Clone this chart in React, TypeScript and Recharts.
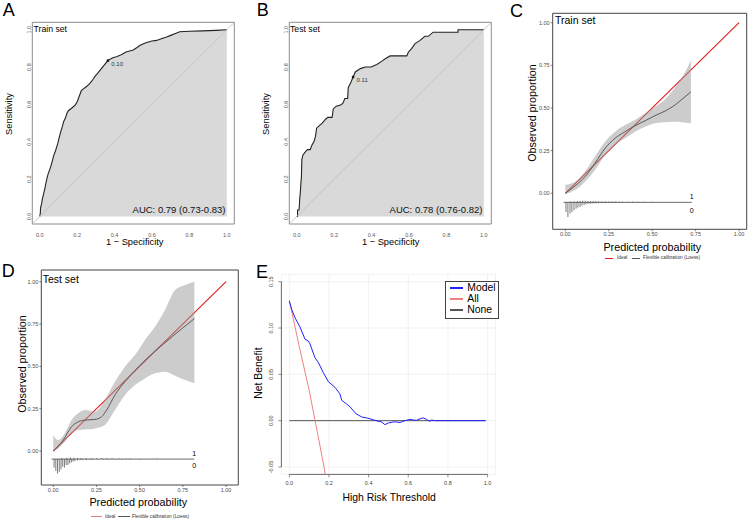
import React from 'react';
import {
  ComposedChart, XAxis, YAxis, Line, Area, ReferenceLine, ReferenceArea, ReferenceDot, CartesianGrid,
} from 'recharts';

const FONT = '"Liberation Sans", Arial, Helvetica, sans-serif';
type P = [number, number];
type B3 = [number, number, number];

// ---------------- data ----------------
const rocTicks = [0, 0.2, 0.4, 0.6, 0.8, 1.0];
const calTicks = [0, 0.25, 0.5, 0.75, 1.0];
const dcaXTicks = [0, 0.2, 0.4, 0.6, 0.8, 1.0];
const dcaYTicks = [-0.05, 0, 0.05, 0.1, 0.15];

// ROC train (1-specificity, sensitivity)
const rocTrain: P[] = [
  [0, 0], [0.003, 0.02], [0.004, 0.045], [0.01, 0.07], [0.014, 0.095], [0.02, 0.12], [0.027, 0.15],
  [0.033, 0.18], [0.039, 0.207], [0.045, 0.23], [0.057, 0.262], [0.065, 0.29], [0.074, 0.325],
  [0.085, 0.355], [0.096, 0.39], [0.103, 0.42], [0.11, 0.447], [0.12, 0.48], [0.128, 0.509],
  [0.138, 0.53], [0.145, 0.553], [0.154, 0.568], [0.17, 0.58], [0.19, 0.598], [0.2, 0.615],
  [0.207, 0.633], [0.215, 0.655], [0.222, 0.674], [0.235, 0.685], [0.248, 0.695], [0.26, 0.705],
  [0.27, 0.716], [0.285, 0.735], [0.296, 0.752], [0.31, 0.768], [0.323, 0.784], [0.34, 0.805],
  [0.352, 0.82], [0.364, 0.835], [0.38, 0.845], [0.394, 0.851], [0.41, 0.856], [0.429, 0.863],
  [0.445, 0.872], [0.461, 0.881], [0.48, 0.886], [0.5, 0.892], [0.52, 0.905], [0.536, 0.917],
  [0.571, 0.932], [0.6, 0.94], [0.624, 0.943], [0.65, 0.952], [0.678, 0.961], [0.7, 0.97],
  [0.722, 0.979], [0.748, 0.989], [0.8, 0.992], [0.87, 0.994], [0.943, 0.997], [1, 1],
];
const rocTrainCut: P = [0.364, 0.835];

// ROC test
const rocTest: P[] = [
  [0, 0], [0.004, 0], [0.004, 0.035], [0.012, 0.035], [0.014, 0.06], [0.016, 0.1], [0.019, 0.13],
  [0.021, 0.163], [0.023, 0.19], [0.025, 0.216], [0.026, 0.26], [0.027, 0.305], [0.033, 0.33],
  [0.048, 0.349], [0.057, 0.358], [0.072, 0.358], [0.08, 0.381], [0.092, 0.402], [0.1, 0.429],
  [0.106, 0.473], [0.119, 0.485], [0.136, 0.5], [0.154, 0.521], [0.166, 0.531], [0.189, 0.531],
  [0.195, 0.576], [0.211, 0.591], [0.234, 0.597], [0.246, 0.606], [0.257, 0.632], [0.272, 0.632],
  [0.275, 0.69], [0.29, 0.72], [0.301, 0.747], [0.313, 0.774], [0.34, 0.792], [0.366, 0.801],
  [0.398, 0.801], [0.428, 0.814], [0.455, 0.832], [0.475, 0.846], [0.499, 0.86], [0.588, 0.86],
  [0.597, 0.881], [0.614, 0.899], [0.632, 0.926], [0.659, 0.943], [0.685, 0.965], [0.703, 0.965],
  [0.729, 0.987], [0.862, 0.987], [0.862, 1], [1, 1],
];
const rocTestCut: P = [0.301, 0.747];

// Calibration (train)
const idealLine: P[] = [[0, 0], [1, 1]];
const loessTrain: P[] = [
  [0, 0], [0.056, 0.043], [0.113, 0.097], [0.171, 0.176], [0.229, 0.264], [0.286, 0.322],
  [0.344, 0.361], [0.401, 0.396], [0.459, 0.425], [0.516, 0.455], [0.574, 0.482],
  [0.631, 0.517], [0.689, 0.566], [0.723, 0.595],
];
const bandTrain: B3[] = [
  [0, -0.005, 0.05], [0.056, 0.019, 0.068], [0.113, 0.068, 0.127], [0.171, 0.137, 0.215],
  [0.229, 0.224, 0.302], [0.286, 0.283, 0.361], [0.344, 0.322, 0.4], [0.401, 0.361, 0.429],
  [0.459, 0.39, 0.469], [0.516, 0.41, 0.507], [0.574, 0.416, 0.55], [0.631, 0.42, 0.62],
  [0.689, 0.415, 0.71], [0.723, 0.41, 0.78],
];
const rugTrain0: P[] = [
  [0.004, 0.057], [0.015, 0.086], [0.027, 0.066], [0.038, 0.057], [0.05, 0.047], [0.062, 0.037],
  [0.073, 0.031], [0.085, 0.027], [0.096, 0.019], [0.108, 0.016], [0.119, 0.012], [0.131, 0.009],
  [0.143, 0.008], [0.154, 0.007], [0.166, 0.006], [0.178, 0.006], [0.19, 0.005], [0.2, 0.005],
  [0.212, 0.004], [0.224, 0.004], [0.236, 0.004], [0.248, 0.003], [0.26, 0.003], [0.272, 0.003],
  [0.284, 0.003], [0.296, 0.003], [0.31, 0.003], [0.33, 0.002], [0.35, 0.002], [0.37, 0.002],
  [0.39, 0.002], [0.42, 0.002], [0.45, 0.002],
];
const rugTrain1: P[] = [
  [0.03, 0.005], [0.05, 0.006], [0.07, 0.008], [0.085, 0.009], [0.1, 0.01], [0.115, 0.009],
  [0.13, 0.008], [0.145, 0.008], [0.16, 0.007], [0.175, 0.007], [0.19, 0.006], [0.21, 0.006],
  [0.23, 0.006], [0.25, 0.005], [0.27, 0.005], [0.29, 0.005], [0.31, 0.004], [0.33, 0.004],
  [0.36, 0.004], [0.39, 0.004], [0.42, 0.003], [0.46, 0.003], [0.5, 0.003],
];

// Calibration (test)
const loessTest: P[] = [
  [0, 0], [0.058, 0.065], [0.106, 0.144], [0.145, 0.173], [0.183, 0.183], [0.241, 0.187],
  [0.28, 0.203], [0.309, 0.242], [0.357, 0.331], [0.415, 0.41], [0.473, 0.475], [0.531, 0.535],
  [0.589, 0.59], [0.647, 0.64], [0.705, 0.69], [0.763, 0.738], [0.817, 0.782],
];
const bandTest: B3[] = [
  [0, 0.0, 0.094], [0.029, 0.016, 0.065], [0.067, 0.055, 0.105], [0.106, 0.105, 0.183],
  [0.145, 0.124, 0.223], [0.183, 0.128, 0.242], [0.241, 0.134, 0.232], [0.299, 0.154, 0.301],
  [0.357, 0.242, 0.409], [0.415, 0.331, 0.498], [0.473, 0.39, 0.567], [0.531, 0.429, 0.656],
  [0.589, 0.459, 0.734], [0.647, 0.468, 0.833], [0.705, 0.445, 0.951], [0.763, 0.42, 0.98],
  [0.817, 0.4, 1.0],
];
const rugTest0: P[] = [
  [0.005, 0.05], [0.015, 0.07], [0.025, 0.085], [0.035, 0.075], [0.045, 0.06], [0.055, 0.045],
  [0.065, 0.05], [0.075, 0.035], [0.085, 0.035], [0.095, 0.025], [0.105, 0.02], [0.115, 0.015],
  [0.125, 0.012], [0.14, 0.008], [0.155, 0.006], [0.17, 0.006], [0.19, 0.005], [0.21, 0.004],
  [0.23, 0.004], [0.26, 0.004], [0.29, 0.003], [0.32, 0.003], [0.36, 0.003], [0.4, 0.003],
  [0.44, 0.002], [0.5, 0.002],
];
const rugTest1: P[] = [
  [0.05, 0.006], [0.08, 0.008], [0.1, 0.01], [0.12, 0.008], [0.14, 0.007], [0.16, 0.006],
  [0.19, 0.006], [0.22, 0.005], [0.25, 0.005], [0.28, 0.005], [0.31, 0.004], [0.34, 0.004],
  [0.38, 0.004], [0.42, 0.004], [0.45, 0.003], [0.6, 0.003],
];

// Decision curve
const dcaModel: P[] = [
  [0, 0.129], [0.012, 0.12], [0.029, 0.111], [0.054, 0.101], [0.079, 0.088], [0.096, 0.086],
  [0.104, 0.083], [0.129, 0.068], [0.146, 0.063], [0.171, 0.052], [0.197, 0.042], [0.23, 0.036],
  [0.255, 0.029], [0.264, 0.022], [0.289, 0.018], [0.306, 0.015], [0.336, 0.0075], [0.365, 0.004],
  [0.39, 0.003], [0.424, 0.001], [0.449, -0.0007], [0.466, -0.0014], [0.482, -0.0043],
  [0.499, -0.0025], [0.524, -0.0014], [0.541, -0.0014], [0.558, -0.002], [0.583, 0],
  [0.608, 0.0014], [0.625, 0.0007], [0.642, 0.0004], [0.659, 0.002], [0.676, 0.003],
  [0.692, 0.0014], [0.709, -0.0007], [0.718, 0.0007], [0.734, 0], [0.99, 0],
];
const dcaAll: P[] = [
  [0, 0.13], [0.05, 0.08], [0.1, 0.033], [0.13, 0], [0.15, -0.022], [0.175, -0.05], [0.181, -0.058],
];
const dcaNone: P[] = [[0, 0], [0.99, 0]];

// ---------------- helpers ----------------
const toXY = (a: P[]) => a.map(([x, y]) => ({ x, y }));
const toBand = (a: B3[]) => a.map(([x, lo, hi]) => ({ x, r: [lo, hi] }));

function RotTick(props: any) {
  const { x, y, payload, fmt, size, color, dx } = props;
  const xx = x + dx;
  return (
    <text x={xx} y={y} transform={`rotate(-90 ${xx} ${y})`} textAnchor="middle" fontSize={size}
      fill={color} fontFamily={FONT}>{fmt(payload.value)}</text>
  );
}

function Txt({ x, y, size, children, rot = false, anchor = 'middle', color = '#000' }: any) {
  const tx = anchor === 'middle' ? '-50%' : anchor === 'end' ? '-100%' : '0';
  return (
    <div style={{
      position: 'absolute', left: x, top: y, fontSize: size, fontFamily: FONT, color, lineHeight: 1,
      whiteSpace: 'nowrap', transform: `translate(${tx}, -50%)${rot ? ' rotate(-90deg)' : ''}`,
    }}>{children}</div>
  );
}

function Seg({ x1, x2, y, color, h = 1 }: any) {
  return <div style={{ position: 'absolute', left: x1, top: y - h / 2, width: x2 - x1, height: h, background: color }} />;
}

const textShape = (txt: string, o: any) => (p: any) => (
  <text x={p.cx + (o.dx || 0)} y={p.cy + (o.dy || 0)} textAnchor={o.anchor || 'start'} fontSize={o.size}
    fill={o.color || '#000'} fontFamily={FONT}>{txt}</text>
);

// ---------------- ROC panel ----------------
function RocPanel({ left, points, cut, cutLabel, auc }: any) {
  const W = 245, H = 250, yW = 20, xH = 20;
  const margin = { top: 22.3, right: W - 234.3, bottom: H - 224 - xH, left: 32.3 - yW };
  const dom = [-0.04, 1.04];
  return (
    <div style={{ position: 'absolute', left, top: 0 }}>
      <ComposedChart width={W} height={H} margin={margin}>
        <XAxis type="number" dataKey="x" domain={dom} allowDataOverflow ticks={rocTicks} interval={0}
          tickFormatter={(v: number) => v.toFixed(1)} axisLine={false} tickLine={false} tickSize={6}
          tickMargin={3.5} height={xH} tick={{ fontSize: 5.5, fill: '#555', fontFamily: FONT }} />
        <YAxis type="number" dataKey="y" domain={dom} allowDataOverflow ticks={rocTicks} interval={0}
          axisLine={false} tickLine={false} tickSize={0} tickMargin={0} width={yW}
          tick={(p: any) => <RotTick {...p} dx={-1.5} fmt={(v: number) => v.toFixed(1)} size={5.5} color="#555" />} />
        <Area data={toXY(points)} dataKey="y" type="linear" baseValue={0} fill="#d9d9d9" fillOpacity={1}
          stroke="#222" strokeWidth={1.1} isAnimationActive={false} dot={false} activeDot={false} />
        <ReferenceLine segment={[{ x: -0.04, y: -0.04 }, { x: 1.04, y: 1.04 }]} stroke="#bdbdbd"
          strokeWidth={0.8} ifOverflow="visible" />
        <ReferenceArea x1={-0.04} x2={1.04} y1={-0.04} y2={1.04} fill="none" fillOpacity={0}
          stroke="#8c8c8c" strokeWidth={1} ifOverflow="visible" />
        <ReferenceDot x={cut[0]} y={cut[1]} r={1.2} ifOverflow="visible"
          shape={(p: any) => (
            <g>
              <rect x={p.cx - 1.2} y={p.cy - 1.2} width={2.4} height={2.4} fill="#111" />
              <text x={p.cx + 3.5} y={p.cy + 5.3} fontSize={6} fill="#333" fontFamily={FONT}>{cutLabel}</text>
            </g>
          )} />
        <ReferenceDot x={0.993} y={0.021} r={0} ifOverflow="visible"
          shape={textShape(auc, { size: 9.5, anchor: 'end', color: '#111' })} />
      </ComposedChart>
    </div>
  );
}

// ---------------- Calibration panel ----------------
function CalPanel({ left, top, W, H, plot, xDom, yDom, loess, band, rug0, rug1, rugY, rugEnd, lab1Y, lab0Y }: any) {
  const yW = 20, xH = 14;
  const margin = { top: plot.T, right: W - plot.R, bottom: H - plot.B - xH, left: plot.L - yW };
  return (
    <div style={{ position: 'absolute', left, top }}>
      <ComposedChart width={W} height={H} margin={margin}>
        <XAxis type="number" dataKey="x" domain={xDom} allowDataOverflow ticks={calTicks} interval={0}
          tickFormatter={(v: number) => v.toFixed(2)} axisLine={false} tickLine={{ stroke: '#333', strokeWidth: 0.6 }}
          tickSize={2} tickMargin={1} height={xH} tick={{ fontSize: 5.5, fill: '#4d4d4d', fontFamily: FONT }} />
        <YAxis type="number" dataKey="y" domain={yDom} allowDataOverflow ticks={calTicks} interval={0}
          tickFormatter={(v: number) => v.toFixed(2)} axisLine={false} tickLine={{ stroke: '#333', strokeWidth: 0.6 }}
          tickSize={2} tickMargin={1} width={yW} tick={{ fontSize: 5.5, fill: '#4d4d4d', fontFamily: FONT }} />
        <Area data={toXY(idealLine)} dataKey="y" type="linear" stroke="#e41a1c" strokeWidth={1.1} fill="none"
          fillOpacity={0} dot={false} activeDot={false} isAnimationActive={false} />
        <Area data={toBand(band)} dataKey="r" type="monotone" fill="#9a9a9a" fillOpacity={0.5} stroke="none"
          dot={false} activeDot={false} isAnimationActive={false} />
        <Line data={toXY(loess)} dataKey="y" type="monotone" stroke="#5a5a5a" strokeWidth={1} dot={false}
          activeDot={false} isAnimationActive={false} />
        <ReferenceLine segment={[{ x: -0.01, y: rugY }, { x: rugEnd, y: rugY }]} stroke="#444" strokeWidth={0.8}
          ifOverflow="visible" />
        {rug0.map(([x, h]: P, i: number) => (
          <ReferenceLine key={'d' + i} segment={[{ x, y: rugY }, { x, y: rugY - h }]} stroke="#444"
            strokeWidth={0.7} ifOverflow="visible" />
        ))}
        {rug1.map(([x, h]: P, i: number) => (
          <ReferenceLine key={'u' + i} segment={[{ x, y: rugY }, { x, y: rugY + h }]} stroke="#444"
            strokeWidth={0.7} ifOverflow="visible" />
        ))}
        <ReferenceDot x={rugEnd} y={lab1Y} r={0} ifOverflow="visible"
          shape={textShape('1', { size: 7, anchor: 'middle', dy: 2.5 })} />
        <ReferenceDot x={rugEnd} y={lab0Y} r={0} ifOverflow="visible"
          shape={textShape('0', { size: 7, anchor: 'middle', dy: 2.5 })} />
        <ReferenceArea x1={xDom[0]} x2={xDom[1]} y1={yDom[0]} y2={yDom[1]} fill="none" fillOpacity={0}
          stroke="#444" strokeWidth={1} ifOverflow="visible" />
      </ComposedChart>
    </div>
  );
}

// ---------------- DCA panel ----------------
function DcaPanel() {
  const W = 250, H = 264, yW = 20, xH = 16;
  const L = 31.4, R = 245.5, T = 16.3, Bt = 216.4;
  const margin = { top: T, right: W - R, bottom: H - Bt - xH, left: L - yW };
  const xDom = [-0.04, 1.04];
  const yDom = [-0.058, 0.158];
  return (
    <div style={{ position: 'absolute', left: 250, top: 258 }}>
      <ComposedChart width={W} height={H} margin={margin}>
        <CartesianGrid stroke="#ececec" strokeWidth={0.7} />
        <XAxis type="number" dataKey="x" domain={xDom} allowDataOverflow ticks={dcaXTicks} interval={0}
          tickFormatter={(v: number) => v.toFixed(1)} axisLine={false} tickLine={{ stroke: '#444', strokeWidth: 0.6 }}
          tickSize={3} tickMargin={4} height={xH} tick={{ fontSize: 5.5, fill: '#444', fontFamily: FONT }} />
        <YAxis type="number" dataKey="y" domain={yDom} allowDataOverflow ticks={dcaYTicks} interval={0}
          axisLine={false} tickLine={{ stroke: '#444', strokeWidth: 0.6 }} tickSize={3} tickMargin={0} width={yW}
          tick={(p: any) => <RotTick {...p} dx={-5.4} fmt={(v: number) => v.toFixed(2)} size={5.5} color="#444" />} />
        <ReferenceLine segment={[{ x: -0.04, y: -0.05 }, { x: -0.04, y: 0.15 }]} stroke="#444" strokeWidth={0.8}
          ifOverflow="visible" />
        <ReferenceLine segment={[{ x: 0, y: -0.058 }, { x: 1, y: -0.058 }]} stroke="#444" strokeWidth={0.8}
          ifOverflow="visible" />
        <Line data={toXY(dcaNone)} dataKey="y" type="linear" stroke="#555" strokeWidth={1} dot={false}
          activeDot={false} isAnimationActive={false} />
        <Line data={toXY(dcaAll)} dataKey="y" type="linear" stroke="#ee8080" strokeWidth={1} dot={false}
          activeDot={false} isAnimationActive={false} />
        <Line data={toXY(dcaModel)} dataKey="y" type="linear" stroke="#1f1fff" strokeWidth={1} dot={false}
          activeDot={false} isAnimationActive={false} />
      </ComposedChart>
    </div>
  );
}

export default function App() {
  return (
    <div style={{ position: 'absolute', left: 0, top: 0, width: 750, height: 522, background: '#fff', overflow: 'hidden', fontFamily: FONT }}>
      <RocPanel left={0} points={rocTrain} cut={rocTrainCut} cutLabel="0.10" auc="AUC: 0.79 (0.73-0.83)" />
      <RocPanel left={256.5} points={rocTest} cut={rocTestCut} cutLabel="0.11" auc="AUC: 0.78 (0.76-0.82)" />
      <CalPanel left={495} top={0} W={255} H={265} plot={{ L: 57.7, R: 251.7, T: 13.3, B: 229.3 }}
        xDom={[-0.0725, 1.044]} yDom={[-0.211, 1.055]} loess={loessTrain} band={bandTrain}
        rug0={rugTrain0} rug1={rugTrain1} rugY={-0.053} rugEnd={0.728} lab1Y={-0.016} lab0Y={-0.098} />
      <CalPanel left={0} top={258} W={245} H={264} plot={{ L: 41.3, R: 238.3, T: 12, B: 227 }}
        xDom={[-0.069, 1.071]} yDom={[-0.2, 1.069]} loess={loessTest} band={bandTest}
        rug0={rugTest0} rug1={rugTest1} rugY={-0.047} rugEnd={0.816} lab1Y={-0.014} lab0Y={-0.087} />
      <DcaPanel />

      {/* panel letters */}
      <Txt x={2.7} y={10} size={18} anchor="start">A</Txt>
      <Txt x={256.7} y={10.3} size={18} anchor="start">B</Txt>
      <Txt x={510} y={10.8} size={18} anchor="start">C</Txt>
      <Txt x={1.7} y={271.3} size={18} anchor="start">D</Txt>
      <Txt x={256} y={271.7} size={18} anchor="start">E</Txt>

      {/* ROC titles */}
      <Txt x={33.5} y={28.5} size={8.7} anchor="start">Train set</Txt>
      <Txt x={290} y={28.8} size={8.7} anchor="start">Test set</Txt>
      <Txt x={10} y={114} size={9.3} rot>Sensitivity</Txt>
      <Txt x={134.7} y={243} size={9.3}>1 − Specificity</Txt>
      <Txt x={267.2} y={114} size={9.3} rot>Sensitivity</Txt>
      <Txt x={390.7} y={243} size={9.3}>1 − Specificity</Txt>

      {/* Calibration train */}
      <Txt x={555} y={19.5} size={10.5} anchor="start">Train set</Txt>
      <Txt x={531.7} y={112.5} size={10.7} rot>Observed proportion</Txt>
      <Txt x={652.3} y={246.5} size={10.8}>Predicted probability</Txt>
      <Seg x1={605} x2={613} y={258.3} color="#e41a1c" h={0.8} />
      <Txt x={617} y={258.3} size={4.8} anchor="start" color="#333">Ideal</Txt>
      <Seg x1={632} x2={640} y={258.3} color="#555" h={0.8} />
      <Txt x={643} y={258.3} size={4.8} anchor="start" color="#333">Flexible calibration (Loess)</Txt>

      {/* Calibration test */}
      <Txt x={42.7} y={279.2} size={10.5} anchor="start">Test set</Txt>
      <Txt x={21.7} y={364.2} size={10.7} rot>Observed proportion</Txt>
      <Txt x={138.3} y={501.7} size={10.8}>Predicted probability</Txt>
      <Seg x1={91} x2={101.5} y={516.7} color="#ee7a7a" h={0.8} />
      <Txt x={105} y={516.7} size={4.8} anchor="start" color="#333">Ideal</Txt>
      <Seg x1={118} x2={129.5} y={516.7} color="#555" h={0.8} />
      <Txt x={132} y={516.7} size={4.8} anchor="start" color="#333">Flexible calibration (Loess)</Txt>

      {/* DCA */}
      <Txt x={259.2} y={372.5} size={10.4} rot>Net Benefit</Txt>
      <Txt x={389.2} y={497.8} size={10.4}>High Risk Threshold</Txt>
      <div style={{ position: 'absolute', left: 445, top: 281, width: 52.3, height: 36.3, border: '1px solid #444', background: '#fff' }} />
      <Seg x1={450} x2={463.3} y={288} color="#1f1fff" h={1.3} />
      <Txt x={467.3} y={287.5} size={10.4} anchor="start">Model</Txt>
      <Seg x1={450} x2={463.3} y={299} color="#ee8080" h={1.1} />
      <Txt x={467.3} y={298.5} size={10.4} anchor="start">All</Txt>
      <Seg x1={450} x2={463.3} y={310} color="#555" h={1.1} />
      <Txt x={467.3} y={309.5} size={10.4} anchor="start">None</Txt>
    </div>
  );
}
